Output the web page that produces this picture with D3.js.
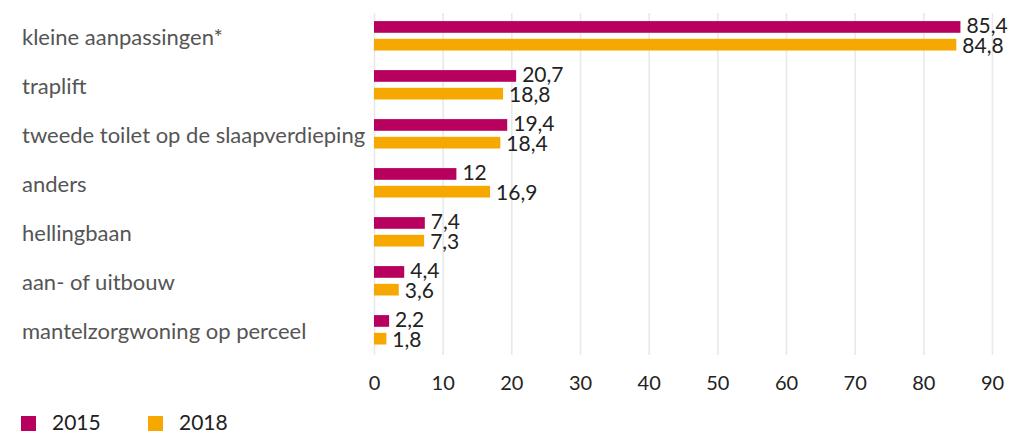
<!DOCTYPE html>
<html lang="nl">
<head>
<meta charset="utf-8">
<title>Woningaanpassingen 2015 en 2018</title>
<script src="https://cdn.jsdelivr.net/npm/d3@7/dist/d3.min.js"></script>
<style>
  body { margin: 0; background: #fff; }
  text { font-family: Lato, "Noto Sans", sans-serif; }
</style>
</head>
<body>
<div id="chart"></div>
<script>
// data
var categories = ["kleine aanpassingen*", "traplift", "tweede toilet op de slaapverdieping",
                  "anders", "hellingbaan", "aan- of uitbouw", "mantelzorgwoning op perceel"];
var series = ["2015", "2018"];
var values2015 = [85.4, 20.7, 19.4, 12, 7.4, 4.4, 2.2];
var values2018 = [84.8, 18.8, 18.4, 16.9, 7.3, 3.6, 1.8];
var xTicks = [0, 10, 20, 30, 40, 50, 60, 70, 80, 90];

var colors = { "2015": "#b8005f", "2018": "#f7a800" };
var w = 1011, h = 434;

var rows = categories.map(function(c, i) {
  return { cat: c, vals: [ { s: "2015", v: values2015[i] }, { s: "2018", v: values2018[i] } ] };
});

var svg = d3.select("#chart").append("svg")
  .attr("width", w).attr("height", h);

var x = d3.scaleLinear().domain([0, 90]).range([374, 992]);
var y0 = d3.scaleBand().domain(categories).range([11.3, 354.3]);
var y1 = d3.scaleBand().domain(series).range([9.8, 39.2]).paddingInner(0.34);

// grid lines
svg.append("g")
  .attr("transform", "translate(0,355)")
  .call(d3.axisBottom(x).tickValues(xTicks).tickSize(-342).tickFormat(""))
  .call(function(g) {
    g.select(".domain").remove();
    g.selectAll("line").attr("stroke", "#e9e9e9").attr("stroke-width", 1.6);
  });

// x axis labels
svg.append("g")
  .attr("transform", "translate(0,372)")
  .call(d3.axisBottom(x).tickValues(xTicks).tickSize(0).tickPadding(0))
  .call(function(g) {
    g.select(".domain").remove();
    g.selectAll("text")
      .attr("font-size", "20px")
      .attr("fill", "#222")
      .attr("dy", "0.9em");
  });

// category labels
svg.append("g").selectAll("text")
  .data(categories).enter().append("text")
  .attr("x", 22)
  .attr("y", function(d) { return y0(d) + y0.bandwidth() / 2 + 9; })
  .attr("font-size", "22px")
  .attr("fill", "#555")
  .text(function(d) { return d; });

// bars
var group = svg.append("g").selectAll("g")
  .data(rows).enter().append("g")
  .attr("transform", function(d) { return "translate(0," + y0(d.cat) + ")"; });

group.selectAll("rect")
  .data(function(d) { return d.vals; }).enter().append("rect")
  .attr("x", x(0))
  .attr("y", function(d) { return y1(d.s); })
  .attr("width", function(d) { return x(d.v) - x(0); })
  .attr("height", y1.bandwidth())
  .attr("fill", function(d) { return colors[d.s]; });

group.selectAll("text")
  .data(function(d) { return d.vals; }).enter().append("text")
  .attr("x", function(d) { return x(d.v) + 6; })
  .attr("y", function(d) { return y1(d.s) + y1.bandwidth() / 2 + (d.s === "2015" ? -1.5 : 0.5); })
  .attr("dy", "0.36em")
  .attr("font-size", "21px")
  .attr("fill", "#222")
  .text(function(d) { return String(d.v).replace(".", ","); });

// legend
var legend = svg.append("g").selectAll("g")
  .data(series).enter().append("g")
  .attr("transform", function(d, i) { return "translate(" + (21 + i * 127) + ",416)"; });

legend.append("rect")
  .attr("width", 15).attr("height", 15)
  .attr("fill", function(d) { return colors[d]; });

legend.append("text")
  .attr("x", 31).attr("y", 14)
  .attr("font-size", "21px")
  .attr("fill", "#222")
  .text(function(d) { return d; });
</script>
</body>
</html>
